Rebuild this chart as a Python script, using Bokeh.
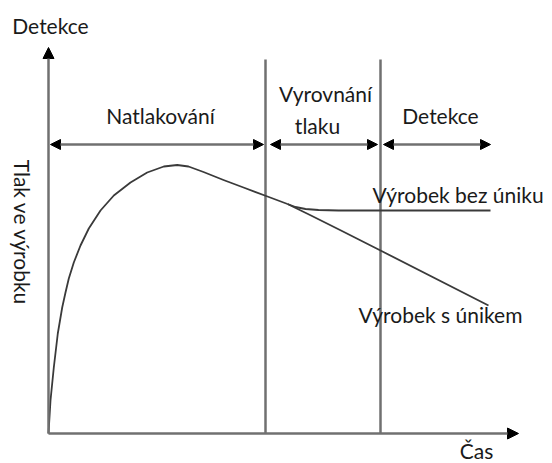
from math import pi

from bokeh.core.properties import value
from bokeh.embed import file_html
from bokeh.models import Arrow, NormalHead, Range1d
from bokeh.plotting import figure
from bokeh.resources import INLINE

# Schematic units: time from the origin to the right, pressure upward.
# Pressure in the product during filling, up to the point where the two cases split.
curve_t = [0, 2, 5.3, 9.3, 13.7, 17, 20.3, 25.3, 32, 40.3, 52, 65.3, 82, 98.7, 115.3,
           128.7, 140, 155, 175, 195, 219, 239]
curve_p = [0, 33, 66, 100, 126, 141, 155, 171, 188, 205, 223, 238, 251, 261, 267,
           268.5, 267, 261.5, 253.5, 246, 237, 229.5]

no_leak_t = [239, 247, 257, 270, 290, 442]
no_leak_p = [229.5, 226.5, 224.5, 223.5, 223, 223]

leak_t = [239, 262, 292, 332, 440]
leak_p = [229.5, 218.3, 203.3, 183, 128]

# Phase boundaries on the time axis and the phases between them
phase_bounds = [217, 332]
phase_start = [2, 222, 335]
phase_end = [215, 329, 442]
phase_level = 289

axis_t_end = 470
axis_p_end = 386
bound_top = 374

# Text labels
phase_label_t = [112, 392]
phase_label_p = [318, 318]
phase_labels = ["Natlakování", "Detekce"]
mid_label_t = [277, 269]
mid_label_p = [340, 308]
mid_labels = ["Vyrovnání", "tlaku"]
branch_label_t = [324, 310]
branch_label_p = [239, 119]
branch_labels = ["Výrobek bez úniku", "Výrobek s únikem"]

FONT = value("Lato")
TEXT_COLOR = "#1a1a1a"
AXIS_COLOR = "#707070"

p = figure(
    width=552,
    height=463,
    x_range=Range1d(-48, 504),
    y_range=Range1d(-30, 433),
    min_border=0,
    toolbar_location=None,
    output_backend="svg",
)
p.axis.visible = False
p.grid.visible = False
p.outline_line_color = None

# Axes with arrow heads
head = dict(size=11, fill_color="black", line_color="black")
p.add_layout(Arrow(x_start=0, y_start=0, x_end=axis_t_end, y_end=0,
                   line_color=AXIS_COLOR, line_width=2.5, end=NormalHead(**head)))
p.add_layout(Arrow(x_start=0, y_start=0, x_end=0, y_end=axis_p_end,
                   line_color=AXIS_COLOR, line_width=2.5, end=NormalHead(**head)))

# Phase boundaries
for b in phase_bounds:
    p.line([b, b], [0, bound_top], line_color=AXIS_COLOR, line_width=2.5)

# Double-headed phase arrows
for s, e in zip(phase_start, phase_end):
    p.add_layout(Arrow(x_start=s, y_start=phase_level, x_end=e, y_end=phase_level,
                       line_color=AXIS_COLOR, line_width=2.5,
                       start=NormalHead(size=10, fill_color="black", line_color="black"),
                       end=NormalHead(size=10, fill_color="black", line_color="black")))

# Pressure curves
curve_style = dict(line_color="#3a3a3a", line_width=1.8, line_join="round")
p.line(curve_t, curve_p, **curve_style)
p.line(no_leak_t, no_leak_p, **curve_style)
p.line(leak_t, leak_p, **curve_style)

text_style = dict(text_font=FONT, text_font_size="21px", text_color=TEXT_COLOR,
                  text_baseline="middle")

p.text(x=phase_label_t, y=phase_label_p, text=phase_labels, text_align="center", **text_style)
p.text(x=mid_label_t, y=mid_label_p, text=mid_labels, text_align="center", **text_style)
p.text(x=branch_label_t, y=branch_label_p, text=branch_labels, text_align="left", **text_style)

# Axis titles
p.text(x=[2], y=[408], text=["Detekce"], text_align="center", **text_style)
p.text(x=[428], y=[-17], text=["Čas"], text_align="center", **text_style)
p.text(x=[-26], y=[201], text=["Tlak ve výrobku"], text_align="center", angle=-pi / 2,
       **text_style)

open("out.html", "w").write(file_html(p, INLINE))
